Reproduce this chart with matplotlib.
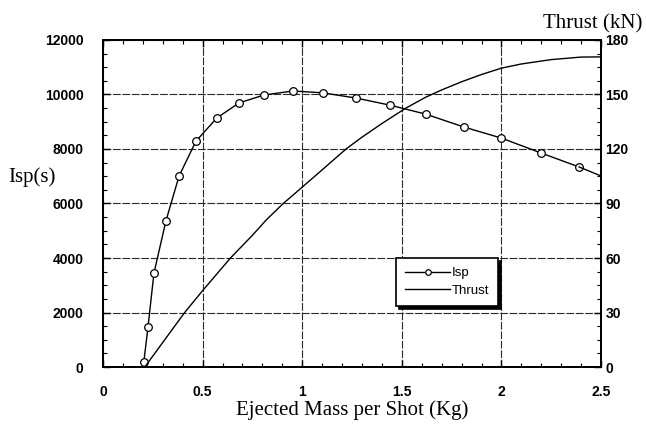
#!/usr/bin/env python3
"""Isp and thrust versus ejected mass per shot."""

import matplotlib
matplotlib.use("Agg")
import matplotlib.pyplot as plt
from matplotlib.ticker import MultipleLocator

# Isp curve (left axis), markers
isp_mass = [0.205, 0.226, 0.256, 0.316, 0.382, 0.467, 0.572, 0.683, 0.808,
            0.954, 1.104, 1.27, 1.44, 1.62, 1.81, 2.00, 2.20, 2.39]
isp_values = [180, 1470, 3450, 5360, 7010, 8290, 9140, 9690, 9980,
              10130, 10060, 9870, 9610, 9280, 8810, 8400, 7850, 7340]
# line runs on to the right edge without a marker
isp_tail_mass = [2.39, 2.5]
isp_tail_values = [7340, 7010]

# Thrust curve (right axis)
thrust_mass = [0.21, 0.30, 0.41, 0.50, 0.57, 0.64, 0.75, 0.82, 0.905, 1.0,
               1.1, 1.22, 1.3, 1.4, 1.52, 1.62, 1.7, 1.8, 1.9, 2.0, 2.1,
               2.25, 2.4, 2.5]
thrust_kn = [0, 13.5, 30, 42, 51, 60, 72.5, 81, 90, 99,
             108.5, 120, 126.5, 134, 142.5, 148.5, 152.5, 157, 161, 164.5, 166.8,
             169.2, 170.6, 170.7]

x_ticks = [0, 0.5, 1, 1.5, 2, 2.5]
x_tick_labels = ["0", "0.5", "1", "1.5", "2", "2.5"]
isp_ticks = [0, 2000, 4000, 6000, 8000, 10000, 12000]
thrust_ticks = [0, 30, 60, 90, 120, 150, 180]

SERIF = "Liberation Serif"
SANS = "Liberation Sans"


def main() -> None:
    fig = plt.figure(figsize=(6.46, 4.30), dpi=100)
    ax = fig.add_axes([0.1594, 0.1465, 0.7710, 0.7605])
    ax2 = ax.twinx()

    # Isp on left axis
    ax.plot(isp_mass, isp_values, color="black", linewidth=1.0, marker="o",
            markersize=5.5, markerfacecolor="white", markeredgecolor="black",
            markeredgewidth=0.9, label="Isp", zorder=3)
    ax.plot(isp_tail_mass, isp_tail_values, color="black", linewidth=1.0, zorder=3)

    # Thrust on right axis
    ax2.plot(thrust_mass, thrust_kn, color="black", linewidth=1.0, label="Thrust")

    ax.set_xlim(0, 2.5)
    ax.set_ylim(0, 12000)
    ax2.set_ylim(0, 180)

    ax.set_xticks(x_ticks)
    ax.set_xticklabels(x_tick_labels)
    ax.set_yticks(isp_ticks)
    ax2.set_yticks(thrust_ticks)
    ax.xaxis.set_minor_locator(MultipleLocator(0.1))
    ax.yaxis.set_minor_locator(MultipleLocator(500))
    ax2.yaxis.set_minor_locator(MultipleLocator(7.5))

    ax.grid(True, which="major", color="#2a2a2a", linewidth=0.8,
            linestyle=(0, (7, 1.5)))

    ax.tick_params(axis="x", which="both", direction="in", top=True,
                   pad=13, labelsize=10)
    ax.tick_params(axis="y", which="both", direction="in", right=False,
                   pad=14, labelsize=10)
    ax2.tick_params(axis="y", which="both", direction="in", pad=3, labelsize=10)
    ax.tick_params(which="major", length=5, width=1.0)
    ax.tick_params(which="minor", length=3, width=0.8)
    ax2.tick_params(which="major", length=5, width=1.0)
    ax2.tick_params(which="minor", length=3, width=0.8)

    for lab in ax.get_xticklabels() + ax.get_yticklabels() + ax2.get_yticklabels():
        lab.set_fontfamily(SANS)
        lab.set_fontweight("bold")

    for a in (ax, ax2):
        for spine in a.spines.values():
            spine.set_linewidth(1.3)
            spine.set_color("black")

    ax.set_xlabel("Ejected Mass per Shot (Kg)", fontfamily=SERIF, fontsize=15,
                  labelpad=1)
    fig.text(0.012, 0.588, "Isp(s)", fontfamily=SERIF, fontsize=15,
             ha="left", va="center")
    fig.text(0.995, 0.945, "Thrust (kN)", fontfamily=SERIF, fontsize=15,
             ha="right", va="center")

    handles = ax.get_lines()[:1] + ax2.get_lines()
    leg = ax.legend(handles, ["Isp", "Thrust"], loc="upper left",
                    bbox_to_anchor=(1.47, 4000), bbox_transform=ax.transData,
                    borderaxespad=0, fancybox=False, framealpha=1,
                    edgecolor="black", handlelength=3.4, handletextpad=0.1,
                    borderpad=0.7, labelspacing=0.4,
                    shadow={"color": "black", "alpha": 1},
                    prop={"family": SANS, "size": 9.5})
    leg.get_frame().set_linewidth(1.2)
    leg.set_zorder(5)
    for h in leg.legend_handles:
        h.set_markersize(4)

    fig.savefig("out.png", dpi=100)
    plt.close(fig)


if __name__ == "__main__":
    main()
